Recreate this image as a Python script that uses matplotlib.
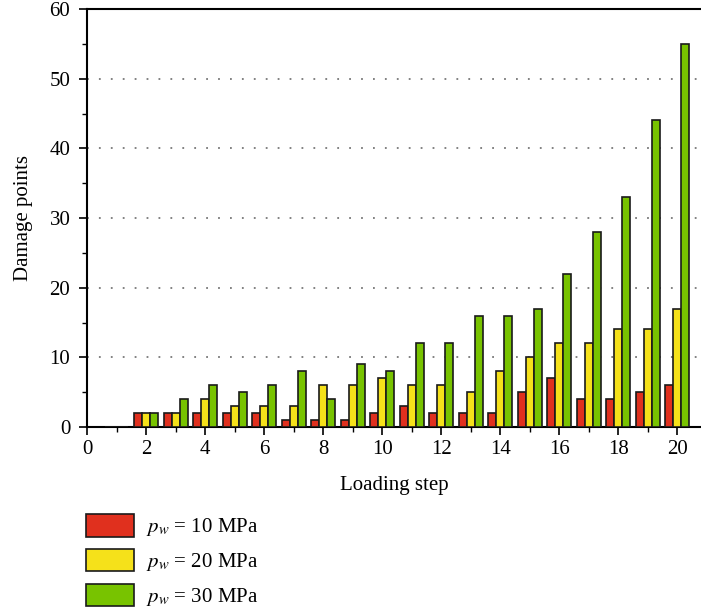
import matplotlib
matplotlib.use("Agg")
import matplotlib.pyplot as plt
from matplotlib.ticker import MultipleLocator
import numpy as np

plt.rcParams['font.family'] = ['Liberation Serif', 'DejaVu Serif']
plt.rcParams['mathtext.fontset'] = 'stix'

steps = np.arange(1, 21)
pw10 = [0, 2, 2, 2, 2, 2, 1, 1, 1, 2, 3, 2, 2, 2, 5, 7, 4, 4, 5, 6]
pw20 = [0, 2, 2, 4, 3, 3, 3, 6, 6, 7, 6, 6, 5, 8, 10, 12, 12, 14, 14, 17]
pw30 = [0, 2, 4, 6, 5, 6, 8, 4, 9, 8, 12, 12, 16, 16, 17, 22, 28, 33, 44, 55]
labels = [r'$p_w$ = 10 MPa', r'$p_w$ = 20 MPa', r'$p_w$ = 30 MPa']
colors = ['#E0301E', '#F5E11A', '#78C300']

fig = plt.figure(figsize=(7.01, 6.11), dpi=100)
ax = fig.add_axes([87/701, 1-427/611, 1-87/701, 418/611])

w = 0.27
handles = []
for i, (vals, c) in enumerate(zip([pw10, pw20, pw30], colors)):
    h = ax.bar(steps + (i - 1) * w, vals, width=w, color=c,
               edgecolor='#1a1a1a', linewidth=1.2, zorder=3)
    handles.append(h)

ax.set_xlim(0, 20.8)
ax.set_ylim(0, 60)
ax.xaxis.set_major_locator(MultipleLocator(2))
ax.xaxis.set_minor_locator(MultipleLocator(1))
ax.yaxis.set_major_locator(MultipleLocator(10))
ax.yaxis.set_minor_locator(MultipleLocator(5))
ax.tick_params(which='major', direction='out', length=6, width=1.2, labelsize=15)
ax.tick_params(axis='y', which='major', pad=6)
ax.tick_params(which='minor', direction='out', length=3.5, width=1.0)

# dotted guide lines
for y in range(10, 60, 10):
    ax.axhline(y, color='#777777', linestyle=(0, (1, 5.6)), linewidth=1.3, zorder=1)

ax.spines['right'].set_visible(False)
for s in ['left', 'bottom', 'top']:
    ax.spines[s].set_linewidth(1.5)

ax.set_xlabel('Loading step', fontsize=15, labelpad=12)
ax.set_ylabel('Damage points', fontsize=15, labelpad=12)

fig.legend(handles, labels, loc='upper left', bbox_to_anchor=(86/701, 1-514/611),
           frameon=False, fontsize=15, handlelength=2.3, handleheight=1.3,
           labelspacing=0.5, borderpad=0, borderaxespad=0, handletextpad=0.6)

fig.savefig('out.png', dpi=100)
